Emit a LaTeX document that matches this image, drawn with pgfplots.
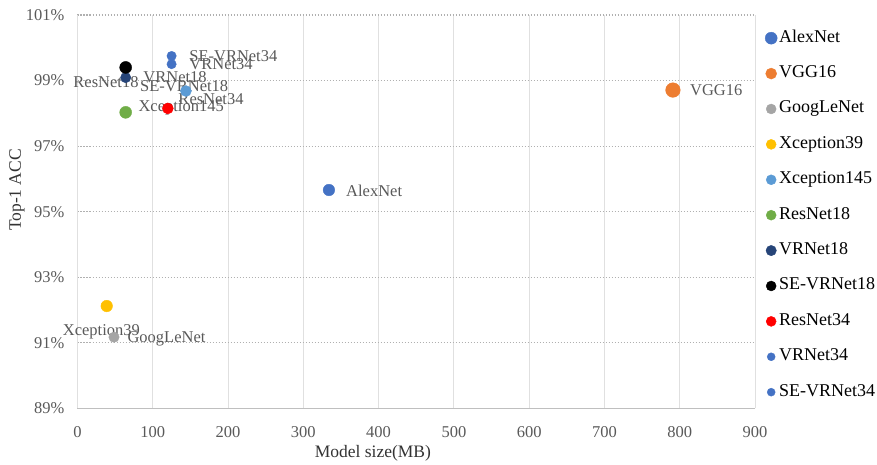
\documentclass[border=0pt]{standalone}
\usepackage{pgfplots}
\pgfplotsset{compat=1.18}
\usepackage{fontspec}
\setmainfont{Liberation Serif}
\definecolor{cAlex}{HTML}{4472C4}
\definecolor{cVGG}{HTML}{ED7D31}
\definecolor{cGoog}{HTML}{A5A5A5}
\definecolor{cXa}{HTML}{FFC000}
\definecolor{cXb}{HTML}{5B9BD5}
\definecolor{cRa}{HTML}{70AD47}
\definecolor{cVRa}{HTML}{264478}
\definecolor{cSEa}{HTML}{000000}
\definecolor{cRb}{HTML}{FF0000}
\definecolor{cVRb}{HTML}{4472C4}
\definecolor{cSEb}{HTML}{4472C4}
\definecolor{tickgray}{HTML}{595959}
\definecolor{gridgray}{HTML}{E0E0E0}
\definecolor{dotgray}{HTML}{B0B0B0}
\definecolor{axisgray}{HTML}{BFBFBF}
\tikzset{datalabel/.style={anchor=mid west, inner sep=0pt, yshift=-2pt, text=tickgray, font=\fontsize{16.5}{19}\selectfont}}
\begin{document}
\begin{tikzpicture}
\begin{axis}[
  at={(0pt,0pt)}, anchor=south west,
  scale only axis, width=677.5pt, height=393.3pt,
  xmin=0, xmax=900, ymin=89, ymax=101,
  xtick={0,100,...,900}, ytick={89,91,...,101},
  yticklabel={\pgfmathprintnumber{\tick}\%},
  /pgf/number format/assume math mode=true,
  major tick length=0pt,
  axis lines=left, axis line style={-},
  x axis line style={draw=axisgray, line width=1.3pt},
  y axis line style={draw=gridgray, line width=0.8pt},
  xmajorgrids, ymajorgrids,
  every axis x grid/.append style={draw=gridgray, line width=0.8pt},
  every axis y grid/.append style={draw=dotgray, line width=1.1pt, dash pattern=on 1.1pt off 1.9pt},
  tick label style={font=\fontsize{16.5}{19}\selectfont, text=tickgray},
  xticklabel style={anchor=center, inner sep=0pt, yshift=-23.5pt},
  yticklabel style={anchor=east, inner sep=0pt, xshift=-13pt},
  xlabel={Model size(MB)}, ylabel={Top-1 ACC},
  label style={font=\fontsize{17.5}{20}\selectfont, text=black!80},
  xlabel style={at={(axis description cs:0.436,-0.1137)}, anchor=center},
  ylabel style={at={(axis description cs:-0.0893,0.555)}, anchor=center},
  clip=false,
  legend style={draw=none, fill=none, at={(axis description cs:1.0103,0.967)}, anchor=north west,
    font=\fontsize{18}{20}\selectfont, text=black, row sep=19.4pt, cells={anchor=west},
    nodes={inner sep=0pt, text height=12pt, text depth=4pt},
    /tikz/every odd column/.append style={column sep=2pt}},
  legend image code/.code={\draw[#1] plot coordinates {(0pt,0pt)};},
]
% data points
\addplot[only marks, mark=*, color=cAlex, mark size=5.8pt, forget plot] coordinates {(334,95.66)};
\addplot[only marks, mark=*, color=cVGG, mark size=7.3pt, forget plot] coordinates {(791,98.71)};
\addplot[only marks, mark=*, color=cGoog, mark size=5.2pt, forget plot] coordinates {(48.5,91.17)};
\addplot[only marks, mark=*, color=cXa, mark size=5.8pt, forget plot] coordinates {(38.8,92.12)};
\addplot[only marks, mark=*, color=cXb, mark size=5.5pt, forget plot] coordinates {(144,98.68)};
\addplot[only marks, mark=*, color=cRa, mark size=6pt, forget plot] coordinates {(64,98.03)};
\addplot[only marks, mark=*, color=cVRa, mark size=5.2pt, forget plot] coordinates {(64,99.09)};
\addplot[only marks, mark=*, color=cSEa, mark size=6pt, forget plot] coordinates {(64,99.40)};
\addplot[only marks, mark=*, color=cRb, mark size=5.5pt, forget plot] coordinates {(120,98.15)};
\addplot[only marks, mark=*, color=cVRb, mark size=4.7pt, forget plot] coordinates {(125,99.50)};
\addplot[only marks, mark=*, color=cSEb, mark size=4.7pt, forget plot] coordinates {(125,99.75)};
% legend
\addlegendimage{only marks, mark=*, color=cAlex, mark size=6pt}
\addlegendentry{AlexNet}
\addlegendimage{only marks, mark=*, color=cVGG, mark size=5.5pt}
\addlegendentry{VGG16}
\addlegendimage{only marks, mark=*, color=cGoog, mark size=5pt}
\addlegendentry{GoogLeNet}
\addlegendimage{only marks, mark=*, color=cXa, mark size=5pt}
\addlegendentry{Xception39}
\addlegendimage{only marks, mark=*, color=cXb, mark size=5pt}
\addlegendentry{Xception145}
\addlegendimage{only marks, mark=*, color=cRa, mark size=5pt}
\addlegendentry{ResNet18}
\addlegendimage{only marks, mark=*, color=cVRa, mark size=5.2pt}
\addlegendentry{VRNet18}
\addlegendimage{only marks, mark=*, color=cSEa, mark size=5pt}
\addlegendentry{SE-VRNet18}
\addlegendimage{only marks, mark=*, color=cRb, mark size=5pt}
\addlegendentry{ResNet34}
\addlegendimage{only marks, mark=*, color=cVRb, mark size=4pt}
\addlegendentry{VRNet34}
\addlegendimage{only marks, mark=*, color=cSEb, mark size=4pt}
\addlegendentry{SE-VRNet34}
% data labels
\node[datalabel] at (axis cs:148.3,99.72) {SE-VRNet34};
\node[datalabel] at (axis cs:148.5,99.47) {VRNet34};
\node[datalabel] at (axis cs:87.4,99.07) {VRNet18};
\node[datalabel] at (axis cs:-5.6,98.92) {ResNet18};
\node[datalabel] at (axis cs:83,98.79) {SE-VRNet18};
\node[datalabel] at (axis cs:133.9,98.39) {ResNet34};
\node[datalabel] at (axis cs:80.8,98.18) {Xception145};
\node[datalabel] at (axis cs:356.7,95.59) {AlexNet};
\node[datalabel] at (axis cs:813.6,98.68) {VGG16};
\node[datalabel] at (axis cs:-19.7,91.34) {Xception39};
\node[datalabel] at (axis cs:66.2,91.14) {GoogLeNet};
\end{axis}
\pgfresetboundingbox
\path[use as bounding box] (-77.5pt,-56.7pt) rectangle (799.5pt,408.3pt);
\end{tikzpicture}
\end{document}
